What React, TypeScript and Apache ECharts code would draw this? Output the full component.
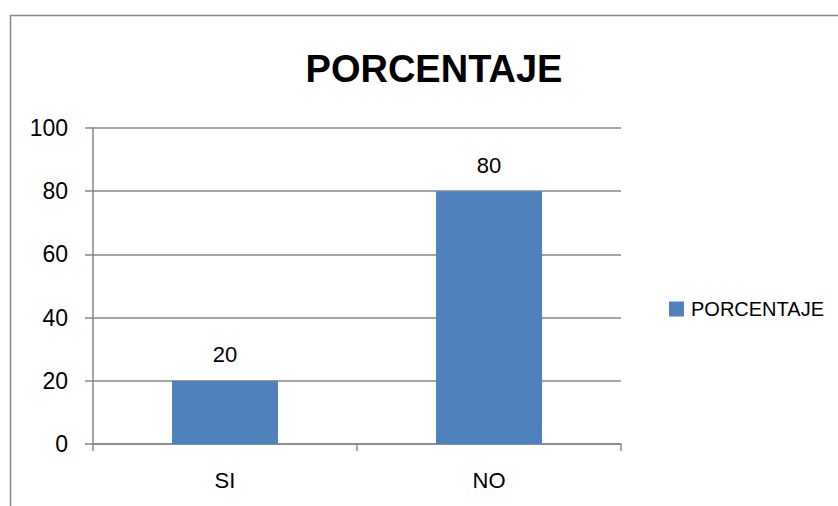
import React, { useEffect, useRef } from "react";
import * as echarts from "echarts";

const categories = ["SI", "NO"];
const seriesName = "PORCENTAJE";
const values = [20, 80];
const titleText = "PORCENTAJE";

export default function App() {
  const ref = useRef<HTMLDivElement>(null);
  useEffect(() => {
    if (!ref.current) return;
    const chart = echarts.init(ref.current, null, { renderer: "svg" });
    const font = "'Liberation Sans', Arial, sans-serif";
    const gray = "#878787";
    chart.setOption({
      animation: false,
      backgroundColor: "#ffffff",
      textStyle: { fontFamily: font },
      title: {
        text: titleText,
        left: 429,
        top: 45,
        textAlign: "center",
        textStyle: { fontFamily: font, fontSize: 38, fontWeight: "bold", color: "#000" },
      },
      graphic: [
        {
          type: "rect",
          shape: { x: 10.5, y: 15.5, width: 900, height: 600 },
          style: { fill: "none", stroke: gray, lineWidth: 1.5 },
          silent: true,
        },
      ],
      legend: {
        left: 664,
        top: 294,
        itemWidth: 15,
        itemHeight: 15,
        icon: "rect",
        textStyle: { fontFamily: font, fontSize: 20, color: "#000", padding: [0, 0, 0, 2] },
        data: [seriesName],
      },
      grid: { left: 93, top: 128, right: 217, bottom: 62, containLabel: false },
      xAxis: {
        type: "category",
        data: categories,
        boundaryGap: true,
        axisLine: { lineStyle: { color: gray, width: 1.5 } },
        axisTick: { show: true, length: 7, alignWithLabel: false, lineStyle: { color: gray, width: 1.5 } },
        axisLabel: { fontFamily: font, fontSize: 22, color: "#000", margin: 25 },
      },
      yAxis: {
        type: "value",
        min: 0,
        max: 100,
        interval: 20,
        axisLine: { show: true, lineStyle: { color: gray, width: 1.5 } },
        axisTick: { show: true, length: 8, lineStyle: { color: gray, width: 1.5 } },
        axisLabel: { fontFamily: font, fontSize: 23, color: "#000", margin: 25 },
        splitLine: { show: true, lineStyle: { color: gray, width: 1.5 } },
      },
      series: [
        {
          name: seriesName,
          type: "bar",
          data: values,
          barWidth: 106,
          itemStyle: { color: "#4F81BD" },
          label: {
            show: true,
            position: "top",
            distance: 15,
            fontFamily: font,
            fontSize: 22,
            color: "#000",
          },
        },
      ],
    });
    return () => chart.dispose();
  }, []);
  return (
    <div
      ref={ref}
      style={{ position: "fixed", left: 0, top: 0, width: 838, height: 506 }}
    />
  );
}
